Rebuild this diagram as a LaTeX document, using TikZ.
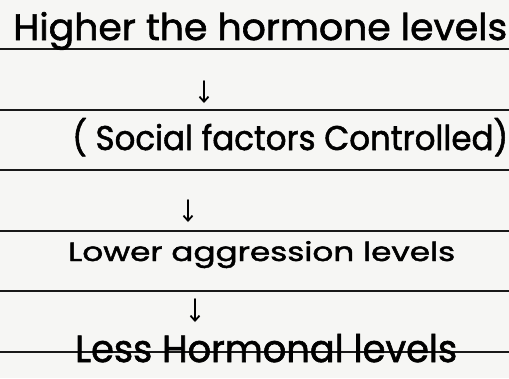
\documentclass[tikz,border=0pt]{standalone}
\usepackage{fontspec}
\setmainfont{Poppins}
\newfontfamily\handfont[FakeBold=1.6]{Poppins}
\usetikzlibrary{arrows.meta}
\definecolor{paper}{RGB}{246,246,244}
\definecolor{rulecol}{RGB}{25,25,25}
\newcommand{\fitline}[3]{\resizebox{#1}{#2}{\handfont #3}}
\begin{document}
\begin{tikzpicture}[x=1pt,y=-1pt,
  ruling/.style={draw=rulecol,line width=1.8pt},
  hand/.style={inner sep=0pt,anchor=base west,text=black},
  flow/.style={draw=black,line width=1.8pt,line cap=round,-{Straight Barb[length=5pt,width=9pt,line width=1.8pt]}}]
\fill[paper] (0,0) rectangle (509,378);
\useasboundingbox (0,0) rectangle (509,378);
\foreach \y in {49,110,170,231,291,352} \draw[ruling] (0,\y) -- (509,\y);
\node[hand] (t1) at (13,40) {\fitline{494pt}{28pt}{Higher the hormone levels}};
\node[hand] (t2) at (72,150) {\fitline{436pt}{32pt}{( Social factors Controlled)}};
\node[hand] (t3) at (68,261) {\fitline{387pt}{20pt}{Lower aggression levels}};
\node[hand] (t4) at (75,362) {\fitline{382pt}{28pt}{Less Hormonal levels}};
\coordinate (a1s) at (204,81);
\coordinate (a1e) at (204,103);
\coordinate (a2s) at (188,200);
\coordinate (a2e) at (188,222);
\coordinate (a3s) at (195,299);
\coordinate (a3e) at (195,322);
\draw[flow] (a1s) -- (a1e);
\draw[flow] (a2s) -- (a2e);
\draw[flow] (a3s) -- (a3e);
\end{tikzpicture}
\end{document}
